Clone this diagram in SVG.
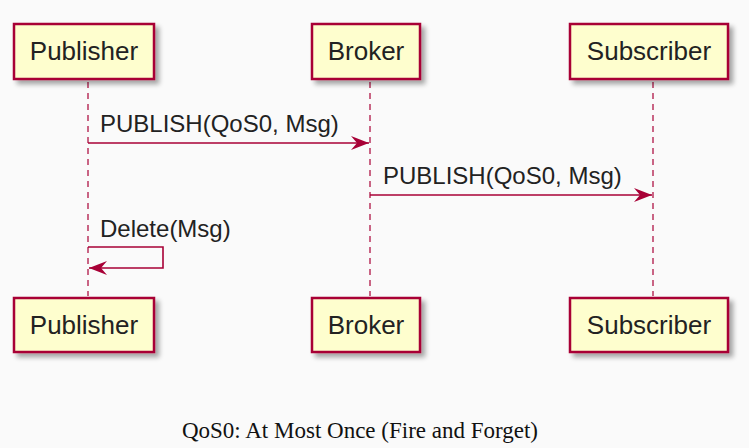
<svg xmlns="http://www.w3.org/2000/svg" width="749" height="448" viewBox="0 0 749 448">
<defs>
<filter id="sh" x="-10%" y="-20%" width="130%" height="150%">
<feGaussianBlur in="SourceAlpha" stdDeviation="2.5"/>
<feOffset dx="4" dy="4" result="b"/>
<feComponentTransfer><feFuncA type="linear" slope="0.35"/></feComponentTransfer>
<feMerge><feMergeNode/><feMergeNode in="SourceGraphic"/></feMerge>
</filter>
<marker id="ah" viewBox="0 0 18 14" refX="18" refY="7" markerWidth="18" markerHeight="14" markerUnits="userSpaceOnUse" orient="auto">
<path d="M0,0 L18,7 L0,14 L6,7 Z" fill="#A80036"/>
</marker>
</defs>
<style>
.box{fill:#FEFECE;stroke:#A80036;stroke-width:2.5;filter:url(#sh)}
.lbl{font-family:"Liberation Sans",Arial,sans-serif;font-size:26px;fill:#222;text-anchor:middle}
.life{stroke:#A80036;stroke-opacity:0.6;stroke-width:2;stroke-dasharray:6,5;fill:none}
.msg{stroke:#A80036;stroke-width:1.6;fill:none;marker-end:url(#ah)}
.mt{font-family:"Liberation Sans",Arial,sans-serif;font-size:24px;fill:#222}
.cap{font-family:"Liberation Serif","Times New Roman",serif;font-size:23px;fill:#111;text-anchor:middle}
</style>
<rect width="749" height="448" fill="#fafafa"/>
<g id="lifelines">
<line class="life" x1="88" y1="82" x2="88" y2="296"/>
<line class="life" x1="370" y1="82" x2="370" y2="296"/>
<line class="life" x1="653" y1="82" x2="653" y2="296"/>
</g>
<g id="publisher-top"><rect class="box" x="14" y="24" width="140" height="55"/><text class="lbl" x="84" y="60">Publisher</text></g>
<g id="broker-top"><rect class="box" x="312" y="24" width="108" height="55"/><text class="lbl" x="366" y="60">Broker</text></g>
<g id="subscriber-top"><rect class="box" x="570" y="24" width="158" height="55"/><text class="lbl" x="649" y="60">Subscriber</text></g>
<g id="publisher-bottom"><rect class="box" x="14" y="298" width="140" height="54"/><text class="lbl" x="84" y="334">Publisher</text></g>
<g id="broker-bottom"><rect class="box" x="312" y="298" width="108" height="54"/><text class="lbl" x="366" y="334">Broker</text></g>
<g id="subscriber-bottom"><rect class="box" x="570" y="298" width="158" height="54"/><text class="lbl" x="649" y="334">Subscriber</text></g>
<g id="connectors">
<line class="msg" x1="88" y1="143" x2="369" y2="143"/>
<text class="mt" x="100" y="132">PUBLISH(QoS0, Msg)</text>
<line class="msg" x1="370" y1="195" x2="652" y2="195"/>
<text class="mt" x="383" y="184">PUBLISH(QoS0, Msg)</text>
<path class="msg" d="M88,247 H163 V268 H89"/>
<text class="mt" x="100" y="237">Delete(Msg)</text>
</g>
<text class="cap" x="360" y="438">QoS0: At Most Once (Fire and Forget)</text>
</svg>
